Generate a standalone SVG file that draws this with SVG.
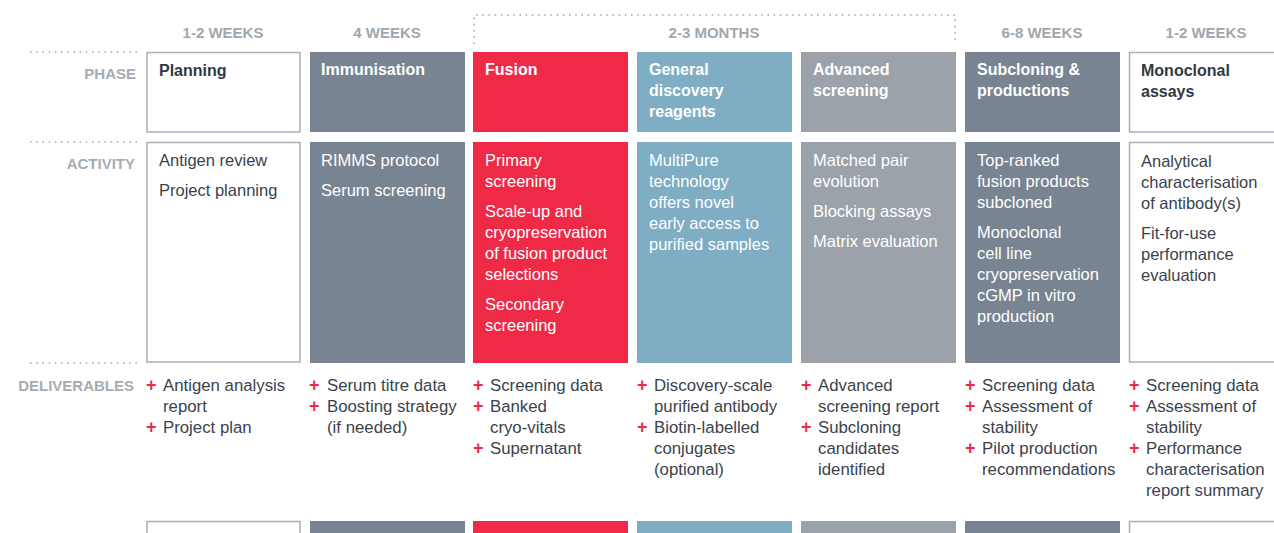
<svg xmlns="http://www.w3.org/2000/svg" width="1274" height="533" viewBox="0 0 1274 533">
<style>
text{font-family:"Liberation Sans",Arial,sans-serif}
.hdr{font-size:15px;font-weight:bold;fill:#a0a7ae;text-anchor:middle}
.lbl{font-size:15px;font-weight:bold;fill:#a6acb3;text-anchor:end}
.ph{font-size:16px;font-weight:bold;fill:#ffffff}
.phd{font-size:16px;font-weight:bold;fill:#2f3a45}
.act{font-size:16.5px;fill:#ffffff}
.actd{font-size:16.5px;fill:#3a434d}
.del{font-size:16.8px;fill:#3a434d}
.plus{font-size:18px;font-weight:bold;fill:#ee2a47}
.dot{stroke:#a3aab1;stroke-width:1.6;stroke-dasharray:1.6 4.6;fill:none}
.wbox{fill:#ffffff;stroke:#a8afb6;stroke-width:1.5}
.slate{fill:#788491}
.red{fill:#ee2a47}
.blue{fill:#7eadc4}
.grey{fill:#9ba2a9}
</style>
<rect width="1274" height="533" fill="#ffffff"/>
<g id="guides">
<line class="dot" x1="30" y1="52" x2="138" y2="52"/>
<line class="dot" x1="30" y1="142" x2="138" y2="142"/>
<line class="dot" x1="30" y1="363" x2="138" y2="363"/>
<path class="dot" d="M474 44 V15 H955 V44"/>
</g>
<g id="headers">
<text class="hdr" x="223" y="37.5">1-2 WEEKS</text>
<text class="hdr" x="387" y="37.5">4 WEEKS</text>
<text class="hdr" x="714" y="37.5">2-3 MONTHS</text>
<text class="hdr" x="1042" y="37.5">6-8 WEEKS</text>
<text class="hdr" x="1206" y="37.5">1-2 WEEKS</text>
</g>
<g id="row-labels">
<text class="lbl" x="136" y="78.5">PHASE</text>
<text class="lbl" x="135" y="168.5">ACTIVITY</text>
<text class="lbl" x="134" y="391">DELIVERABLES</text>
</g>
<g id="col-planning">
<rect class="wbox" x="147" y="52.5" width="153" height="79.5"/>
<rect class="wbox" x="147" y="142.5" width="153" height="219.5"/>
<rect class="wbox" x="147" y="521.5" width="153" height="20"/>
<text class="phd" x="159" y="76">Planning</text>
<text class="actd" x="159" y="166">Antigen review</text>
<text class="actd" x="159" y="196">Project planning</text>
<text class="plus" x="146" y="391">+</text>
<text class="del" x="163" y="391">Antigen analysis</text>
<text class="del" x="163" y="412">report</text>
<text class="plus" x="146" y="433">+</text>
<text class="del" x="163" y="433">Project plan</text>
</g>
<g id="col-immunisation">
<rect class="slate" x="310" y="52" width="155" height="80"/>
<rect class="slate" x="310" y="142" width="155" height="221"/>
<rect class="slate" x="310" y="521" width="155" height="20"/>
<text class="ph" x="321" y="75">Immunisation</text>
<text class="act" x="321" y="166">RIMMS protocol</text>
<text class="act" x="321" y="196">Serum screening</text>
<text class="plus" x="309" y="391">+</text>
<text class="del" x="327" y="391">Serum titre data</text>
<text class="plus" x="309" y="412">+</text>
<text class="del" x="327" y="412">Boosting strategy</text>
<text class="del" x="327" y="433">(if needed)</text>
</g>
<g id="col-fusion">
<rect class="red" x="473" y="52" width="155" height="80"/>
<rect class="red" x="473" y="142" width="155" height="221"/>
<rect class="red" x="473" y="521" width="155" height="20"/>
<text class="ph" x="485" y="75">Fusion</text>
<text class="act" x="485" y="166">Primary</text>
<text class="act" x="485" y="187">screening</text>
<text class="act" x="485" y="217">Scale-up and</text>
<text class="act" x="485" y="238">cryopreservation</text>
<text class="act" x="485" y="259">of fusion product</text>
<text class="act" x="485" y="280">selections</text>
<text class="act" x="485" y="310">Secondary</text>
<text class="act" x="485" y="331">screening</text>
<text class="plus" x="473" y="391">+</text>
<text class="del" x="490" y="391">Screening data</text>
<text class="plus" x="473" y="412">+</text>
<text class="del" x="490" y="412">Banked</text>
<text class="del" x="490" y="433">cryo-vitals</text>
<text class="plus" x="473" y="454">+</text>
<text class="del" x="490" y="454">Supernatant</text>
</g>
<g id="col-general">
<rect class="blue" x="637" y="52" width="155" height="80"/>
<rect class="blue" x="637" y="142" width="155" height="221"/>
<rect class="blue" x="637" y="521" width="155" height="20"/>
<text class="ph" x="649" y="75">General</text>
<text class="ph" x="649" y="96">discovery</text>
<text class="ph" x="649" y="117">reagents</text>
<text class="act" x="649" y="166">MultiPure</text>
<text class="act" x="649" y="187">technology</text>
<text class="act" x="649" y="208">offers novel</text>
<text class="act" x="649" y="229">early access to</text>
<text class="act" x="649" y="250">purified samples</text>
<text class="plus" x="637" y="391">+</text>
<text class="del" x="654" y="391">Discovery-scale</text>
<text class="del" x="654" y="412">purified antibody</text>
<text class="plus" x="637" y="433">+</text>
<text class="del" x="654" y="433">Biotin-labelled</text>
<text class="del" x="654" y="454">conjugates</text>
<text class="del" x="654" y="475">(optional)</text>
</g>
<g id="col-advanced">
<rect class="grey" x="801" y="52" width="155" height="80"/>
<rect class="grey" x="801" y="142" width="155" height="221"/>
<rect class="grey" x="801" y="521" width="155" height="20"/>
<text class="ph" x="813" y="75">Advanced</text>
<text class="ph" x="813" y="96">screening</text>
<text class="act" x="813" y="166">Matched pair</text>
<text class="act" x="813" y="187">evolution</text>
<text class="act" x="813" y="217">Blocking assays</text>
<text class="act" x="813" y="247">Matrix evaluation</text>
<text class="plus" x="801" y="391">+</text>
<text class="del" x="818" y="391">Advanced</text>
<text class="del" x="818" y="412">screening report</text>
<text class="plus" x="801" y="433">+</text>
<text class="del" x="818" y="433">Subcloning</text>
<text class="del" x="818" y="454">candidates</text>
<text class="del" x="818" y="475">identified</text>
</g>
<g id="col-subcloning">
<rect class="slate" x="965" y="52" width="155" height="80"/>
<rect class="slate" x="965" y="142" width="155" height="221"/>
<rect class="slate" x="965" y="521" width="155" height="20"/>
<text class="ph" x="977" y="75">Subcloning &amp;</text>
<text class="ph" x="977" y="96">productions</text>
<text class="act" x="977" y="166">Top-ranked</text>
<text class="act" x="977" y="187">fusion products</text>
<text class="act" x="977" y="208">subcloned</text>
<text class="act" x="977" y="238">Monoclonal</text>
<text class="act" x="977" y="259">cell line</text>
<text class="act" x="977" y="280">cryopreservation</text>
<text class="act" x="977" y="301">cGMP in vitro</text>
<text class="act" x="977" y="322">production</text>
<text class="plus" x="965" y="391">+</text>
<text class="del" x="982" y="391">Screening data</text>
<text class="plus" x="965" y="412">+</text>
<text class="del" x="982" y="412">Assessment of</text>
<text class="del" x="982" y="433">stability</text>
<text class="plus" x="965" y="454">+</text>
<text class="del" x="982" y="454">Pilot production</text>
<text class="del" x="982" y="475">recommendations</text>
</g>
<g id="col-monoclonal">
<rect class="wbox" x="1129.5" y="52.5" width="160" height="79.5"/>
<rect class="wbox" x="1129.5" y="142.5" width="160" height="219.5"/>
<rect class="wbox" x="1129.5" y="521.5" width="160" height="20"/>
<text class="phd" x="1141" y="76">Monoclonal</text>
<text class="phd" x="1141" y="97">assays</text>
<text class="actd" x="1141" y="167">Analytical</text>
<text class="actd" x="1141" y="188">characterisation</text>
<text class="actd" x="1141" y="209">of antibody(s)</text>
<text class="actd" x="1141" y="239">Fit-for-use</text>
<text class="actd" x="1141" y="260">performance</text>
<text class="actd" x="1141" y="281">evaluation</text>
<text class="plus" x="1129" y="391">+</text>
<text class="del" x="1146" y="391">Screening data</text>
<text class="plus" x="1129" y="412">+</text>
<text class="del" x="1146" y="412">Assessment of</text>
<text class="del" x="1146" y="433">stability</text>
<text class="plus" x="1129" y="454">+</text>
<text class="del" x="1146" y="454">Performance</text>
<text class="del" x="1146" y="475">characterisation</text>
<text class="del" x="1146" y="496">report summary</text>
</g>
<g id="connectors"/>
</svg>
